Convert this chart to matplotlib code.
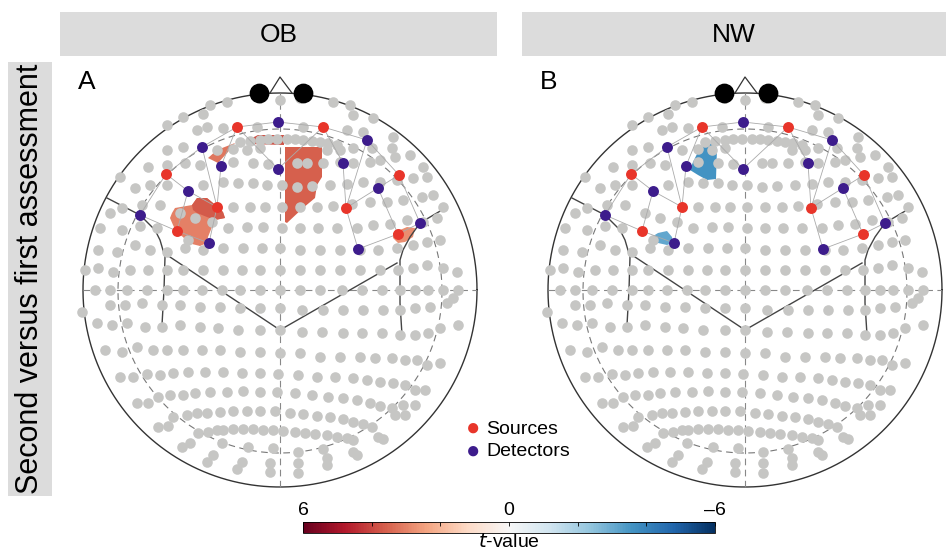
import numpy as np
import matplotlib
matplotlib.use('Agg')
from matplotlib import pyplot as plt
from matplotlib.colors import Normalize
from matplotlib.cm import ScalarMappable

plt.rcParams['font.family'] = ['Liberation Sans', 'DejaVu Sans']

# probe layout, pixel offsets from head centre (head radius ~197)
dots = [
    # upper half
    (-195, 20), (-182, 22), (-167, 18), (-150, 20), (-132, 20), (-113, 20), (-97, 20), (-77, 20), (-57, 20),
    (-38, 20), (-20, 20), (0, 20), (20, 20), (40, 20), (60, 20), (80, 20), (100, 20), (118, 20), (133, 22),
    (147, 25), (163, 22), (177, 18),
    (-182, 40), (-163, 38), (-145, 45), (-130, 40), (-113, 38), (-95, 42), (-77, 40), (-57, 42), (-37, 42),
    (-18, 42), (0, 42), (20, 40), (40, 40), (60, 40), (80, 40), (98, 40), (117, 42), (133, 45), (147, 48),
    (160, 50),
    (-180, 62), (-158, 60), (-140, 64), (-123, 62), (-52, 62), (-33, 63), (-17, 63), (2, 62), (20, 62),
    (38, 62), (57, 62), (77, 62), (93, 65), (110, 66), (127, 70), (143, 68), (157, 72),
    (-100, 77), (-85, 72), (-68, 68), (-92, 50), (-170, 77),
    (-158, 82), (-138, 85), (-120, 85), (-47, 83), (-30, 83), (-15, 83), (2, 83), (20, 83), (37, 83),
    (53, 84), (72, 86), (90, 88), (107, 88), (123, 90), (142, 93), (153, 95), (163, 83),
    (-145, 102), (-130, 105), (-113, 105), (-77, 105), (-57, 108), (-42, 107), (-27, 107), (-13, 105),
    (2, 105), (17, 103), (32, 104), (50, 105), (67, 106), (83, 108), (100, 108), (117, 110), (133, 112),
    (147, 113), (-160, 113),
    (-132, 123), (-113, 125), (-95, 127), (-80, 125), (-47, 128), (-27, 127), (-12, 126), (17, 127),
    (27, 127), (43, 127), (60, 128), (73, 127), (90, 128), (100, 130), (115, 133), (130, 135), (143, 123),
    (-113, 140), (-97, 143), (-63, 140), (-47, 141), (-33, 140), (-20, 142), (47, 140), (60, 140),
    (73, 142), (92, 142), (112, 142), (113, 153),
    (-40, 148), (-30, 149), (-20, 150), (-12, 151), (-3, 151), (7, 151), (15, 151), (23, 150), (32, 149),
    (40, 148), (48, 147), (57, 145),
    (-83, 160), (-73, 163), (-57, 162), (-23, 163), (23, 163), (67, 160), (83, 158),
    (-97, 173), (-77, 176), (73, 175), (93, 172), (-113, 165),
    (-70, 185), (-53, 188), (-20, 192), (0, 190), (20, 192), (53, 188), (70, 185),
    # horizontal midline
    (-185, 0), (-170, 0), (-153, 0), (-133, 0), (-113, 0), (-97, 0), (-78, 0), (-58, 0), (-40, 0), (-20, 0),
    (0, 0), (20, 0), (40, 0), (62, 0), (82, 0), (102, 0), (120, 0), (135, 0), (148, 0), (163, 0), (178, 0),
    # lower half
    (-198, -22), (-170, -15), (-155, -15), (-138, -13), (-118, -15), (-100, -15), (-80, -17), (-60, -17),
    (-40, -18), (-20, -18), (0, -18), (22, -20), (43, -20), (63, -20), (83, -20), (103, -20), (120, -20),
    (135, -18), (150, -17), (167, -13), (173, -8),
    (-183, -33), (-168, -35), (-153, -33), (-135, -37), (-118, -37), (-100, -35), (-80, -37), (-62, -38),
    (-42, -40), (-20, -40), (0, -40), (22, -42), (42, -42), (63, -43), (82, -43), (102, -43), (120, -45),
    (135, -45), (148, -43), (160, -38), (178, -35),
    (-175, -60), (-158, -62), (-143, -57), (-127, -60), (-113, -60), (-97, -60), (-78, -60), (-60, -60),
    (-40, -62), (-20, -62), (0, -63), (20, -63), (40, -67), (60, -67), (80, -67), (95, -68), (112, -68),
    (125, -70), (137, -70), (147, -75), (160, -73),
    (-160, -87), (-147, -87), (-133, -84), (-120, -85), (-107, -83), (-92, -82), (-75, -82), (-57, -82),
    (-38, -83), (-20, -83), (-2, -84), (18, -85), (37, -87), (55, -87), (73, -88), (87, -90), (100, -92),
    (113, -93), (125, -95), (135, -100), (145, -100),
    (-143, -113), (-132, -113), (-122, -107), (-110, -105), (-97, -105), (-85, -103), (-70, -102),
    (-53, -102), (-37, -101), (-20, -102), (-3, -102), (15, -103), (32, -105), (48, -107), (63, -108),
    (77, -110), (90, -113), (100, -116), (112, -118), (123, -115), (135, -115),
    (-107, -127), (-93, -125), (-83, -123), (-73, -123), (-60, -122), (-47, -121), (-33, -121), (-20, -121),
    (-5, -121), (10, -123), (23, -124), (37, -126), (50, -127), (63, -129), (73, -132), (83, -134),
    (92, -137), (115, -125), (125, -125),
    (-122, -137), (-112, -136), (-82, -143), (-72, -142), (-63, -140), (-57, -140), (-47, -139), (-37, -139),
    (-27, -139), (-17, -140), (-7, -140), (3, -141), (15, -142), (25, -143), (35, -144), (47, -145),
    (57, -147), (67, -148), (73, -150), (98, -147), (103, -149),
    (-98, -157), (-90, -153), (-58, -153), (-32, -157), (-7, -158), (18, -162), (43, -159), (73, -162),
    (77, -165),
    (-67, -165), (-38, -172), (-10, -173), (18, -173), (47, -168),
    (-73, -172), (-43, -179), (-10, -182), (18, -183), (47, -175),
]

sources = [(-43, 163), (43, 163), (-114, 116), (119, 115), (-63, 83), (66, 82), (-103, 59), (118, 56)]
detectors = [(-2, 168), (-78, 143), (87, 150), (-59, 124), (-2, 121), (63, 127),
             (-92, 99), (98, 102), (-140, 75), (140, 67), (-71, 47), (78, 41)]
# (source index, detector index)
channels = [(0, 0), (0, 1), (0, 3), (0, 4), (1, 0), (1, 4), (1, 5), (1, 2),
            (2, 1), (2, 6), (2, 8), (3, 2), (3, 7), (3, 9),
            (4, 1), (4, 6), (4, 3), (4, 10), (5, 2), (5, 7), (5, 5), (5, 11),
            (6, 6), (6, 8), (6, 10), (7, 7), (7, 9), (7, 11)]

# significant clusters: (t-value, outline)
clusters_ob = [
    (3.6, [(5, 143), (42, 143), (42, 113), (37, 105), (35, 92), (23, 82), (7, 67), (5, 68)]),
    (3.8, [(-32, 146), (-32, 150), (-22, 155), (4, 155), (4, 145)]),
    (3.2, [(-72, 132), (-63, 140), (-45, 147), (-52, 138), (-62, 127)]),
    (3.0, [(-108, 77), (-105, 82), (-88, 85), (-83, 92), (-73, 92), (-67, 87), (-57, 78), (-55, 72),
           (-65, 70), (-68, 63), (-72, 53), (-73, 47), (-80, 44), (-92, 47), (-97, 53), (-103, 57),
           (-107, 65), (-110, 72)]),
    (3.7, [(-88, 85), (-83, 92), (-73, 92), (-67, 87), (-57, 78), (-55, 72), (-65, 70), (-73, 73),
           (-83, 77), (-87, 80)]),
    (2.8, [(113, 57), (127, 63), (135, 62), (133, 53), (125, 48), (118, 47), (113, 52)]),
]
clusters_nw = [
    (-3.6, [(-40, 147), (-32, 146), (-28, 142), (-29, 111), (-38, 110), (-47, 115), (-55, 120),
            (-52, 128), (-47, 138)]),
    (-3.1, [(-95, 52), (-87, 57), (-78, 59), (-73, 53), (-72, 47), (-78, 45), (-87, 47), (-93, 49)]),
]

panels = ['OB', 'NW']
letters = ['A', 'B']
cmap = plt.get_cmap('RdBu_r')
norm = Normalize(vmin=-6, vmax=6)

fig = plt.figure(figsize=(9.46, 5.54), dpi=100)
W, H = 946, 554


def px_axes(x0, y0, x1, y1):
    return fig.add_axes([x0 / W, 1 - y1 / H, (x1 - x0) / W, (y1 - y0) / H])


def draw_head(ax, clusters):
    R = 197
    t = np.linspace(0, 2 * np.pi, 400)
    ax.plot(R * np.cos(t), R * np.sin(t), color='#333333', lw=1.0, zorder=2)
    ax.plot(162 * np.cos(t), 162 * np.sin(t) - 1, color='#777777', lw=0.8, ls=(0, (6, 4)), zorder=2)
    ax.plot([-R, R], [0, 0], color='#888888', lw=0.8, ls=(0, (6, 4)), zorder=2)
    ax.plot([0, 0], [-R, R], color='#888888', lw=0.8, ls=(0, (6, 4)), zorder=2)
    # nose and ears
    ax.plot([-10, 0, 12], [197, 213, 197], color='#333333', lw=0.9, zorder=2)
    ax.scatter([-21, 23], [197, 197], s=175, color='black', zorder=6)
    ax.plot([-173, -140, -125, -120, -115, -116, -118], [92, 75, 60, 50, 33, 0, -35],
            color='#444444', lw=1.0, zorder=2)
    ax.plot([167, 140, 130, 123, 120, 120, 122], [83, 67, 53, 40, 30, -13, -45],
            color='#444444', lw=1.0, zorder=2)
    ax.plot([-113, 0, 117], [35, -40, 27], color='#444444', lw=1.0, zorder=2)
    for tval, poly in clusters:
        px, py = zip(*poly)
        ax.fill(px, py, color=cmap(norm(tval)), lw=0, zorder=1)
    dx, dy = zip(*dots)
    ax.scatter(dx, dy, s=58, color='#c6c6c4', lw=0, zorder=3)
    for si, di in channels:
        ax.plot([sources[si][0], detectors[di][0]], [sources[si][1], detectors[di][1]],
                color='#aaaaaa', lw=0.6, zorder=4)
    sx, sy = zip(*sources)
    ax.scatter(sx, sy, s=62, color='#e8352a', lw=0, zorder=5)
    qx, qy = zip(*detectors)
    ax.scatter(qx, qy, s=62, color='#3d1c8c', lw=0, zorder=5)
    ax.set_aspect('equal')
    ax.axis('off')


centres = [280, 745]
spans = [(60, 500), (522, 946)]
for i in range(2):
    x0, x1 = spans[i]
    ax = px_axes(x0, 60, x1, 500)
    ax.set_xlim(x0 - centres[i], x1 - centres[i])
    ax.set_ylim(290 - 500, 290 - 60)
    draw_head(ax, [clusters_ob, clusters_nw][i])
    ax.text(x0 - centres[i] + 18, 290 - 82, letters[i], fontsize=19,
            va='center', ha='left')
    strip = px_axes(spans[i][0], 12, [497, 946][i], 56)
    strip.set_facecolor('#dcdcdc')
    strip.set_xticks([])
    strip.set_yticks([])
    for s in strip.spines.values():
        s.set_visible(False)
    strip.text(0.5, 0.47, panels[i], fontsize=19, ha='center', va='center',
               family=['Liberation Sans Narrow', 'Liberation Sans'],
               transform=strip.transAxes)

side = px_axes(8, 62, 52, 496)
side.set_facecolor('#dcdcdc')
side.set_xticks([])
side.set_yticks([])
for s in side.spines.values():
    s.set_visible(False)
side.text(0.5, 0.5, 'Second versus first assessment', fontsize=22, rotation=90,
          ha='center', va='center', transform=side.transAxes)

# legend
fig.text(473 / W, 1 - 429 / H, '\u25CF', color='#e8352a', fontsize=17, ha='center', va='center')
fig.text(486 / W, 1 - 429 / H, 'Sources', fontsize=14, ha='left', va='center')
fig.text(473 / W, 1 - 452 / H, '\u25CF', color='#3d1c8c', fontsize=17, ha='center', va='center')
fig.text(486 / W, 1 - 452 / H, 'Detectors', fontsize=14, ha='left', va='center')

# colour bar
cax = px_axes(303, 522, 715, 533)
sm = ScalarMappable(norm=norm, cmap=cmap)
cb = fig.colorbar(sm, cax=cax, orientation='horizontal')
cb.outline.set_linewidth(0.6)
cax.invert_xaxis()
cax.xaxis.set_ticks_position('top')
cax.set_xticks([6, 4, 2, 0, -2, -4, -6])
cax.set_xticklabels(['6', '', '', '0', '', '', '\u20136'], fontsize=14)
cax.tick_params(axis='x', direction='in', length=3, width=0.6, pad=2)
cax.xaxis.set_label_position('bottom')
cax.set_xlabel('$t$-value', fontsize=14, labelpad=0)

plt.savefig('out.png', dpi=100)
